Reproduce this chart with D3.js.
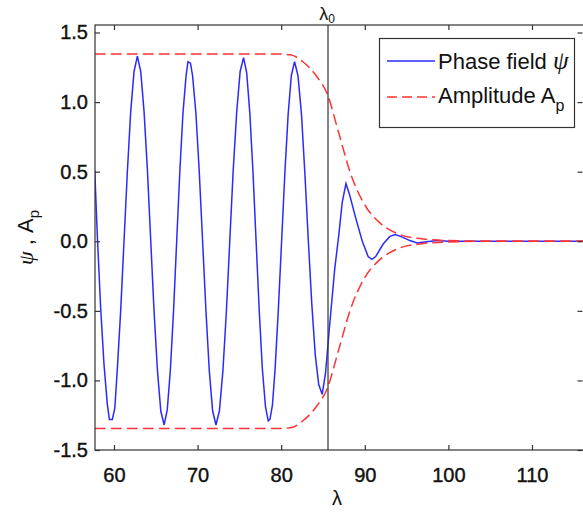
<!DOCTYPE html>
<html><head><meta charset="utf-8">
<script src="https://cdn.jsdelivr.net/npm/d3@7"></script>
<style>body{margin:0;background:#fff}svg{display:block}text{font-family:"Liberation Sans",Arial,sans-serif;fill:#111}</style>
</head><body>
<script>
const xTicks = [60, 70, 80, 90, 100, 110];
const xTickLabels = ["60", "70", "80", "90", "100", "110"];
const yTicks = [-1.5, -1.0, -0.5, 0.0, 0.5, 1.0, 1.5];
const yTickLabels = ["-1.5", "-1.0", "-0.5", "0.0", "0.5", "1.0", "1.5"];
const lambda0 = 85.6;

const psiLambda = [57.7, 58.0, 58.4, 58.8, 59.2, 59.45, 59.8,
  60.1, 60.4, 60.8, 61.2, 61.6, 62.0, 62.4, 62.8,
  63.2, 63.6, 64.0, 64.4, 64.8, 65.2, 65.6, 66.0,
  66.375, 66.75, 67.125, 67.5, 67.875, 68.25, 68.625, 68.85, 69.15,
  69.4, 69.8, 70.2, 70.6, 71.0, 71.4, 71.8, 72.2,
  72.61, 73.03, 73.44, 73.85, 74.26, 74.68, 75.09, 75.5,
  75.875, 76.25, 76.625, 77.0, 77.375, 77.75, 78.125, 78.45, 78.65,
  78.95, 79.28, 79.66, 80.05, 80.44, 80.83, 81.21, 81.6,
  82.01, 82.43, 82.84, 83.25, 83.66, 84.08, 84.49, 84.9,
  85.3, 85.8, 86.4, 86.9, 87.3, 87.75,
  88.2, 88.9, 89.7, 90.4, 90.85, 91.3, 92.2, 93.0, 93.65, 94.5, 95.4, 96.25, 97.4, 98.6, 100, 116.1];
const psiValues = [0.51, 0.05, -0.47, -0.88, -1.17, -1.28, -1.28,
  -1.20, -0.92, -0.50, 0.0, 0.50, 0.93, 1.22, 1.33,
  1.22, 0.93, 0.51, 0.0, -0.51, -0.93, -1.22, -1.32,
  -1.21, -0.92, -0.50, 0.0, 0.50, 0.92, 1.19, 1.29, 1.28,
  1.19, 0.92, 0.50, 0.0, -0.50, -0.93, -1.22, -1.32,
  -1.22, -0.93, -0.51, 0.0, 0.51, 0.93, 1.22, 1.32,
  1.21, 0.92, 0.50, 0.0, -0.50, -0.92, -1.19, -1.29, -1.28,
  -1.18, -0.91, -0.49, 0.0, 0.49, 0.91, 1.19, 1.29,
  1.19, 0.91, 0.48, 0.0, -0.45, -0.82, -1.03, -1.10,
  -0.95, -0.6, -0.2, 0.05, 0.28, 0.415,
  0.33, 0.17, 0.0, -0.11, -0.13, -0.11, -0.02, 0.035, 0.048, 0.03, 0.005, -0.012, -0.003, 0.006, 0.0, 0.0];

const ampLambda = [57.7, 79.8, 81.1, 82.6, 84.3, 85.5, 86.9, 88.3, 89.9, 91.9, 93.9, 96.6, 100, 105, 116.1];
const ampValues = [1.345, 1.345, 1.34, 1.29, 1.18, 1.06, 0.775, 0.487, 0.271, 0.127, 0.055, 0.019, 0.005, 0.0, 0.0];

const W = 583, H = 513;
const L = 95, R = 583, T = 25, B = 450;
const svg = d3.select("body").append("svg").attr("width", W).attr("height", H);
const x = d3.scaleLinear().domain([57.73, 116.1]).range([L, R]);
const y = d3.scaleLinear().domain([-1.5, 1.554]).range([B, T]);

const defs = svg.append("defs");
defs.append("clipPath").attr("id", "clip").append("rect").attr("x", L).attr("y", T).attr("width", R - L).attr("height", B - T);

const plot = svg.append("g").attr("clip-path", "url(#clip)");

const psiData = psiLambda.map((l, i) => [l, psiValues[i]]);
const ampUp = ampLambda.map((l, i) => [l, ampValues[i]]);
const ampDn = ampLambda.map((l, i) => [l, -ampValues[i]]);
const line = d3.line().x(d => x(d[0])).y(d => y(d[1]));
const smooth = d3.line().x(d => x(d[0])).y(d => y(d[1])).curve(d3.curveMonotoneX);

plot.append("path").attr("d", line(psiData)).attr("fill", "none").attr("stroke", "#2a2aff").attr("stroke-width", 1.5);
[ampUp, ampDn].forEach(dd => {
  plot.append("path").attr("d", smooth(dd)).attr("fill", "none").attr("stroke", "#ff3333")
    .attr("stroke-width", 1.5).attr("stroke-dasharray", "11,5");
});

// lambda0 line
svg.append("line").attr("x1", x(lambda0)).attr("x2", x(lambda0)).attr("y1", T).attr("y2", B)
  .attr("stroke", "#333").attr("stroke-width", 1.2);

// axes
const ax = "#333";
const gB = svg.append("g").attr("transform", `translate(0,${B})`)
  .call(d3.axisBottom(x).tickValues(xTicks).tickSize(-5).tickPadding(18).tickFormat((d, i) => xTickLabels[i]));
const gT = svg.append("g").attr("transform", `translate(0,${T})`)
  .call(d3.axisTop(x).tickValues(xTicks).tickSize(-5).tickFormat(""));
const gL = svg.append("g").attr("transform", `translate(${L},0)`)
  .call(d3.axisLeft(y).tickValues(yTicks).tickSize(-5).tickPadding(7).tickFormat((d, i) => yTickLabels[i]));
const gR = svg.append("g").attr("transform", `translate(${R - 0.5},0)`)
  .call(d3.axisRight(y).tickValues(yTicks).tickSize(-5).tickFormat(""));
[gB, gT, gL, gR].forEach(g => {
  g.select(".domain").remove();
  g.selectAll("line").attr("stroke", ax).attr("stroke-width", 1.2);
  g.selectAll("text").attr("font-size", 20).attr("font-family", "Liberation Sans, Arial, sans-serif")
    .attr("fill", "#111").attr("stroke", "#111").attr("stroke-width", 0.4);
});
svg.append("rect").attr("x", L).attr("y", T).attr("width", R - L + 2).attr("height", B - T)
  .attr("fill", "none").attr("stroke", ax).attr("stroke-width", 1.2);

// axis labels
svg.append("text").attr("x", (L + R) / 2 - 2).attr("y", 505).attr("text-anchor", "middle")
  .attr("font-size", 20).text("λ");
const yl = svg.append("text").attr("transform", `translate(33,${(T + B) / 2}) rotate(-90)`).attr("text-anchor", "middle").attr("font-size", 22);
yl.append("tspan").attr("font-family", "Liberation Serif, serif").attr("font-style", "italic").text("ψ");
yl.append("tspan").text(" , A");
yl.append("tspan").attr("font-size", 15).attr("dy", 6).text("p");

// lambda0 label
const l0 = svg.append("text").attr("x", x(lambda0) - 1).attr("y", 20).attr("text-anchor", "middle").attr("font-size", 18);
l0.append("tspan").text("λ");
l0.append("tspan").attr("font-size", 12).attr("dy", 3).text("0");

// legend
const lg = svg.append("g");
lg.append("rect").attr("x", 379.5).attr("y", 38.5).attr("width", 195).attr("height", 89)
  .attr("fill", "#fff").attr("stroke", ax).attr("stroke-width", 1.2);
lg.append("line").attr("x1", 387).attr("x2", 435).attr("y1", 61).attr("y2", 61).attr("stroke", "#2a2aff").attr("stroke-width", 1.5);
lg.append("line").attr("x1", 387).attr("x2", 435).attr("y1", 97).attr("y2", 97).attr("stroke", "#ff3333")
  .attr("stroke-width", 1.5).attr("stroke-dasharray", "10,5");
const t1 = lg.append("text").attr("x", 438).attr("y", 69).attr("font-size", 22);
t1.append("tspan").text("Phase field ");
t1.append("tspan").attr("font-family", "Liberation Serif, serif").attr("font-style", "italic").attr("font-size", 25).text("ψ");
const t2 = lg.append("text").attr("x", 438).attr("y", 103).attr("font-size", 22);
t2.append("tspan").text("Amplitude A");
t2.append("tspan").attr("font-size", 16).attr("dy", 8).text("p");
</script>
</body></html>
